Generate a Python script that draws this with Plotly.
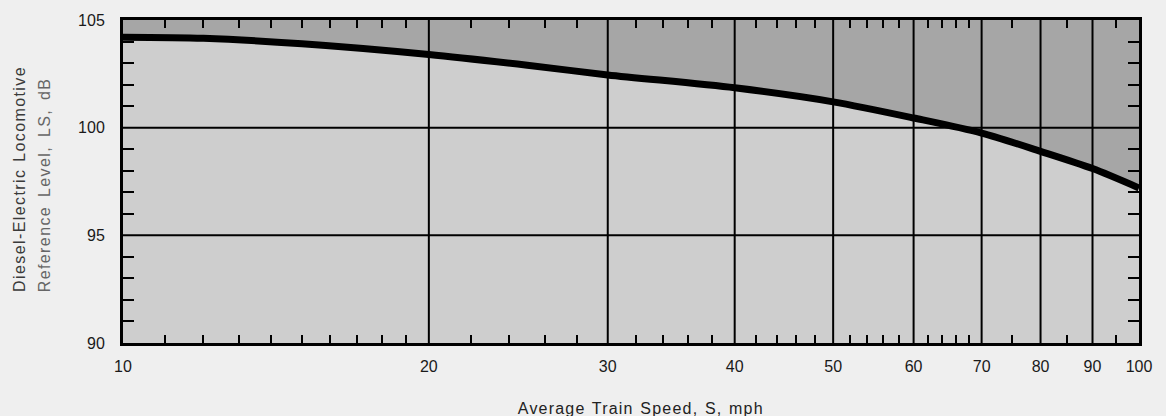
import plotly.graph_objects as go

# Data
speed_mph = [10, 12, 15, 20, 25, 30, 40, 50, 60, 70, 80, 90, 100]
level_db = [104.2, 104.15, 103.9, 103.4, 102.9, 102.45, 101.85, 101.2, 100.45, 99.75, 98.9, 98.1, 97.2]

x_ticks = [10, 20, 30, 40, 50, 60, 70, 80, 90, 100]
x_minor = [11, 12, 13, 14, 15, 16, 17, 18, 19, 22, 24, 26, 28, 32, 34, 36, 38,
           42, 44, 46, 48, 52, 54, 56, 58, 62, 64, 66, 68, 75, 85, 95]
y_ticks = [90, 95, 100, 105]
y_minor = [91, 92, 93, 94, 96, 97, 98, 99, 101, 102, 103, 104]

x_title = "Average Train Speed, S, mph"
y_title_1 = "Diesel-Electric Locomotive"
y_title_2 = "Reference Level, LS, dB"

UPPER = "#a6a6a6"
LOWER = "#cecece"
PAGE = "#efefef"
FONT = "Liberation Sans, Arial, Helvetica, sans-serif"

fig = go.Figure()
fig.add_trace(go.Scatter(
    x=speed_mph, y=level_db, mode="lines",
    line=dict(color="black", width=7, shape="spline", smoothing=0.8),
    fill="tozeroy", fillcolor=LOWER, hoverinfo="skip", showlegend=False,
))

shapes = []
for v in x_ticks[1:-1]:
    shapes.append(dict(type="line", xref="x", yref="paper", x0=v, x1=v, y0=0, y1=1,
                       line=dict(color="black", width=2), layer="above"))
for v in y_ticks[1:-1]:
    shapes.append(dict(type="line", xref="paper", yref="y", x0=0, x1=1, y0=v, y1=v,
                       line=dict(color="black", width=2), layer="above"))

annotations = [
    dict(text=x_title, xref="paper", yref="paper", x=0.51, y=-0.203,
         xanchor="center", yanchor="middle", showarrow=False,
         font=dict(family=FONT, size=16, color="#222222")),
    dict(text=y_title_1, xref="paper", yref="paper", x=-0.1024, y=0.51,
         xanchor="center", yanchor="middle", showarrow=False, textangle=-90,
         font=dict(family=FONT, size=16, color="#3a3a3a")),
    dict(text=y_title_2, xref="paper", yref="paper", x=-0.0768, y=0.49,
         xanchor="center", yanchor="middle", showarrow=False, textangle=-90,
         font=dict(family=FONT, size=16, color="#666666")),
]

fig.update_layout(
    width=1166, height=416,
    margin=dict(l=123, r=27, t=18, b=73),
    paper_bgcolor=PAGE, plot_bgcolor=UPPER,
    font=dict(family=FONT, size=16, color="#1a1a1a"),
    shapes=shapes, annotations=annotations,
    xaxis=dict(
        type="log", range=[1, 2], tickmode="array", tickvals=x_ticks,
        ticktext=[str(v) for v in x_ticks],
        showgrid=False, zeroline=False,
        showline=True, linecolor="black", linewidth=3, mirror="allticks",
        ticks="inside", ticklen=0, tickcolor="black", ticklabelstandoff=7,
        minor=dict(tickmode="array", tickvals=x_minor, ticks="inside", ticklen=8,
                   tickwidth=2, tickcolor="black", showgrid=False),
        tickfont=dict(family=FONT, size=16, color="#1a1a1a"),
    ),
    yaxis=dict(
        range=[90, 105], tickmode="array", tickvals=y_ticks,
        showgrid=False, zeroline=False,
        showline=True, linecolor="black", linewidth=3, mirror="allticks",
        ticks="inside", ticklen=0, tickcolor="black", ticklabelstandoff=12,
        minor=dict(tickmode="array", tickvals=y_minor, ticks="inside", ticklen=11,
                   tickwidth=2, tickcolor="black", showgrid=False),
        tickfont=dict(family=FONT, size=16, color="#1a1a1a"),
    ),
)

post = """
var gd = document.getElementById('{plot_id}');
var sp = [['1.2px', '1px'], ['1.4px', '1px'], ['1.4px', '3px']];
gd.querySelectorAll('.annotation-text').forEach(function (t, i) {
  var s = sp[Math.min(i, sp.length - 1)];
  t.style.letterSpacing = s[0];
  t.style.wordSpacing = s[1];
});
"""

fig.write_html("out.html", post_script=post)
